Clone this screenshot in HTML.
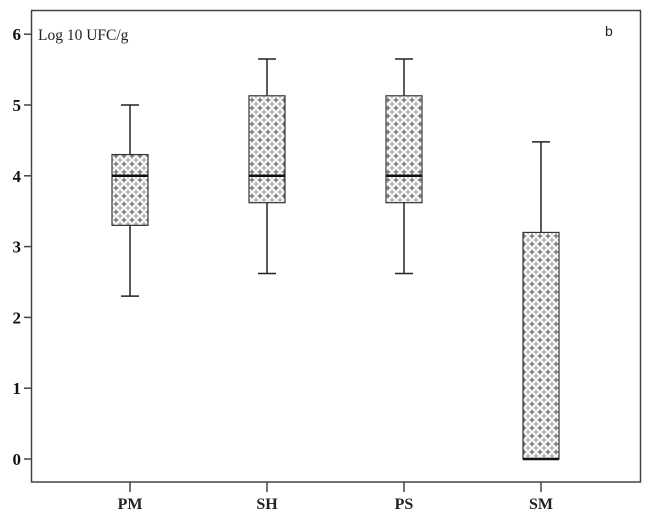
<!DOCTYPE html>
<html><head><meta charset="utf-8"><style>
body{margin:0;background:#fff}
svg{display:block;font-family:"Liberation Serif",serif}
</style></head><body>
<svg id="chart" width="653" height="521" viewBox="0 0 653 521">
<defs>
<pattern id="plus" width="8" height="8" patternUnits="userSpaceOnUse">
<rect width="8" height="8" fill="#fff"/>
<path d="M4 1.5V6.5M1.5 4H6.5" stroke="#666" stroke-width="1.3"/>
<path d="M0 -2.5V2.5M-2.5 0H2.5M8 -2.5V2.5M5.5 0H10.5M0 5.5V10.5M-2.5 8H2.5M8 5.5V10.5M5.5 8H10.5" stroke="#999" stroke-width="1.1"/>
</pattern>
</defs>
<rect x="31.5" y="10.5" width="609" height="471.5" fill="none" stroke="#444" stroke-width="1.5"/>
<text x="38" y="40" font-size="15.5" fill="#222">Log 10 UFC/g</text>
<text x="605" y="36" font-size="14" font-family="Liberation Sans,sans-serif" fill="#222">b</text>
<g id="yaxis"></g><g id="xaxis"></g><g id="boxes"></g>
</svg>
<script>
const categories=["PM","SH","PS","SM"];
const whiskerLow=[2.3,2.62,2.62,0];
const q1=[3.3,3.62,3.62,0];
const medians=[4.0,4.0,4.0,0];
const q3=[4.3,5.13,5.13,3.2];
const whiskerHigh=[5.0,5.65,5.65,4.48];
const yTicks=[0,1,2,3,4,5,6];
const NS="http://www.w3.org/2000/svg";
const y=v=>459-v*70.8;
const x=i=>130+i*137;
function mk(tag,attrs,parent){const e=document.createElementNS(NS,tag);for(const k in attrs)e.setAttribute(k,attrs[k]);parent.appendChild(e);return e;}
const ya=document.getElementById('yaxis'),xa=document.getElementById('xaxis'),bx=document.getElementById('boxes');
yTicks.forEach(t=>{
 const l=mk('line',{x1:24,x2:31,y1:y(t),y2:y(t),stroke:'#444','stroke-width':1.5},ya);
 
 
 const tx=mk('text',{x:21,y:y(t)+6,'font-size':17,'text-anchor':'end',fill:'#111','font-weight':'bold'},ya);
 tx.textContent=t;
 
 
});
categories.forEach((c,i)=>{
 const l=mk('line',{x1:x(i),x2:x(i),y1:482,y2:492,stroke:'#444','stroke-width':1.5},xa);
 
 
 const tx=mk('text',{x:x(i),y:509,'font-size':16,'text-anchor':'middle',fill:'#222','font-weight':'bold'},xa);
 tx.textContent=c;
 
 
 const g=mk('g',{},bx);
 
 
 const cx=x(i),hw=18;
 mk('line',{x1:cx,x2:cx,y1:y(whiskerHigh[i]),y2:y(q3[i]),stroke:'#222','stroke-width':1.5},g);
 mk('line',{x1:cx,x2:cx,y1:y(q1[i]),y2:y(whiskerLow[i]),stroke:'#222','stroke-width':1.5},g);
 mk('line',{x1:cx-9,x2:cx+9,y1:y(whiskerHigh[i]),y2:y(whiskerHigh[i]),stroke:'#222','stroke-width':1.5},g);
 mk('line',{x1:cx-9,x2:cx+9,y1:y(whiskerLow[i]),y2:y(whiskerLow[i]),stroke:'#222','stroke-width':1.5},g);
 mk('rect',{x:cx-hw,y:y(q3[i]),width:hw*2,height:y(q1[i])-y(q3[i]),fill:'url(#plus)',stroke:'#333','stroke-width':1.2},g);
 mk('line',{x1:cx-hw,x2:cx+hw,y1:y(medians[i]),y2:y(medians[i]),stroke:'#111','stroke-width':2.5},g);
});
</script>
</body></html>
